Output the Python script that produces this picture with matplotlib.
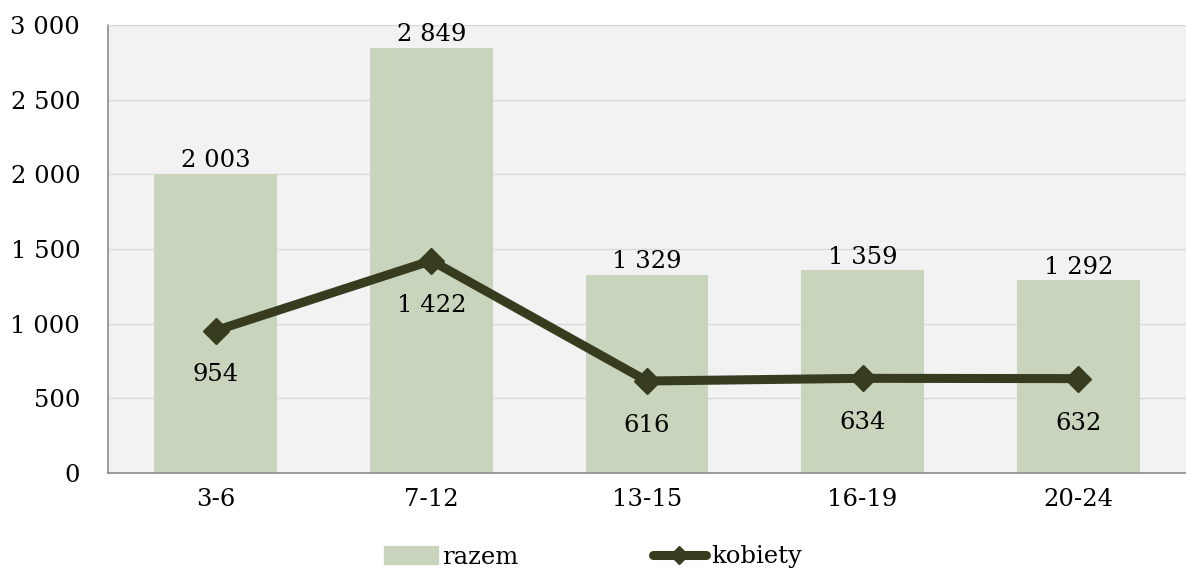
import matplotlib
matplotlib.use("Agg")
import matplotlib.pyplot as plt
from matplotlib.lines import Line2D
from matplotlib.patches import Patch

categories = ['3-6', '7-12', '13-15', '16-19', '20-24']
razem = [2003, 2849, 1329, 1359, 1292]
kobiety = [954, 1422, 616, 634, 632]
yticks = [0, 500, 1000, 1500, 2000, 2500, 3000]


def fmt(v):
    return f'{v:,}'.replace(',', ' ')


plt.rcParams['font.family'] = ['DejaVu Serif']
fs = 17.5

bar_color = '#c9d4bd'
line_color = '#373c1f'

fig = plt.figure(figsize=(11.86, 5.75), dpi=100)
ax = fig.add_axes([108 / 1186, 1 - 473 / 575, (1186 - 108) / 1186, (473 - 25) / 575])
ax.set_facecolor('#f2f2f2')

x = list(range(len(categories)))
ax.bar(x, razem, width=0.57, color=bar_color, zorder=2)
ax.plot(x, kobiety, color=line_color, lw=6.5, marker='D', markersize=13,
        solid_capstyle='round', zorder=3)

for xi, v in zip(x, razem):
    ax.annotate(fmt(v), (xi, v), xytext=(0, 1), textcoords='offset points',
                ha='center', va='bottom', fontsize=fs)
for xi, v in zip(x, kobiety):
    ax.annotate(fmt(v), (xi, v), xytext=(0, -32), textcoords='offset points',
                ha='center', va='center', fontsize=fs)

ax.set_xlim(-0.5, 4.5)
ax.set_ylim(0, 3000)
ax.set_yticks(yticks)
ax.set_yticklabels([fmt(t) for t in yticks], fontsize=fs)
ax.set_xticks(x)
ax.set_xticklabels(categories, fontsize=fs)
ax.tick_params(axis='x', length=0, pad=11)
ax.tick_params(axis='y', length=0, pad=20)
ax.grid(axis='y', color='#d9d9d9', lw=1, zorder=0)
ax.set_axisbelow(True)
ax.spines['right'].set_visible(False)
ax.spines['top'].set_color('#d9d9d9')
for s in ['left', 'bottom']:
    ax.spines[s].set_color('#8c8c8c')
    ax.spines[s].set_linewidth(1.2)

handles = [Patch(color=bar_color, label='razem'),
           Line2D([], [], color=line_color, lw=6.5, marker='D', markersize=9,
                  solid_capstyle='round', label='kobiety')]
fig.legend(handles=handles, loc='center', bbox_to_anchor=(0.5, 1 - 557 / 575),
           ncol=2, frameon=False, fontsize=fs, handlelength=2.2, handletextpad=0.2,
           columnspacing=5.5)

fig.savefig('out.png', dpi=100)
